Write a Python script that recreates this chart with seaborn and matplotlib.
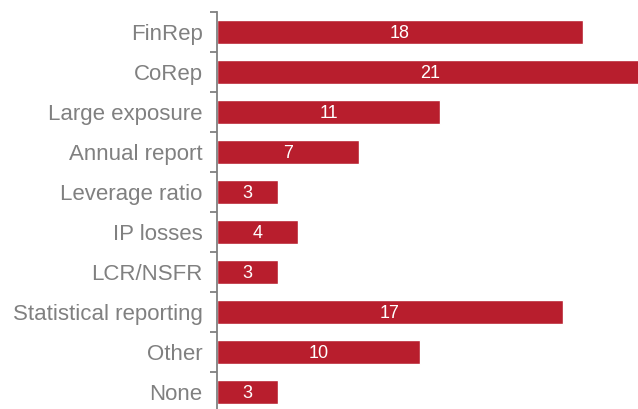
import matplotlib
matplotlib.use("Agg")
import matplotlib.pyplot as plt
import seaborn as sns
import pandas as pd
import numpy as np

categories = ["FinRep", "CoRep", "Large exposure", "Annual report", "Leverage ratio",
              "IP losses", "LCR/NSFR", "Statistical reporting", "Other", "None"]
counts = [18, 21, 11, 7, 3, 4, 3, 17, 10, 3]

df = pd.DataFrame({"category": categories, "count": counts})

sns.set_style("white")
plt.rcParams["font.family"] = ["Liberation Sans", "DejaVu Sans"]

W, H = 638, 409
fig = plt.figure(figsize=(W / 100, H / 100), dpi=100)
# Axes spans from the spine to just past the right edge; the longest bar runs off the figure
left_px, right_px, top_px, bottom_px = 216.5, 644, 12, 412
ax = fig.add_axes([left_px / W, 1 - bottom_px / H,
                   (right_px - left_px) / W, (bottom_px - top_px) / H])

bar_color = "#B81E2D"
grey = "#808080"

sns.barplot(data=df, x="count", y="category", orient="h", color=bar_color,
            saturation=1, width=0.6, ax=ax)

ax.set_xlim(0, 21)
ax.set_ylim(len(categories) - 0.5, -0.5)
ax.set_xlabel("")
ax.set_ylabel("")
ax.set_xticks([])

for side in ["top", "right", "bottom"]:
    ax.spines[side].set_visible(False)
ax.spines["left"].set_color(grey)
ax.spines["left"].set_linewidth(1.3)

# Category labels on major ticks (no marks), separators on minor ticks
ax.tick_params(axis="y", which="major", left=True, length=0, pad=10,
               labelsize=16, labelcolor=grey)
ax.set_yticks(np.arange(-0.5, len(categories) + 0.5, 1), minor=True)
ax.tick_params(axis="y", which="minor", left=True, length=5, width=1.3,
               color=grey, direction="out")

for i, v in enumerate(counts):
    ax.text(v / 2, i, str(v), ha="center", va="center_baseline", color="white", fontsize=13)

fig.savefig("out.png", dpi=100)
